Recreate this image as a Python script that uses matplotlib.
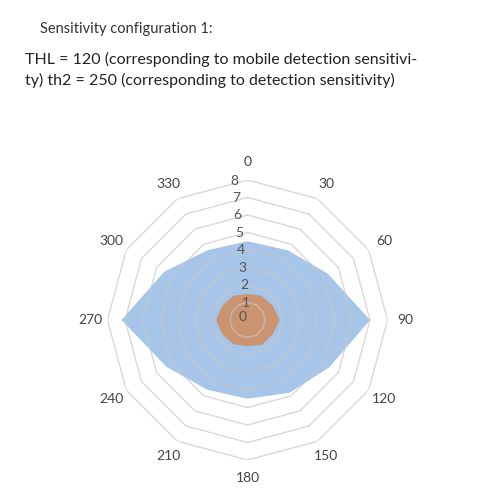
import numpy as np
import matplotlib
matplotlib.use("Agg")
import matplotlib.pyplot as plt

plt.rcParams['font.family'] = ['Lato', 'DejaVu Sans']

angles_deg = [0, 30, 60, 90, 120, 150, 180, 210, 240, 270, 300, 330]
series_blue = [4.5, 4.6, 5.3, 7.0, 5.4, 4.8, 4.5, 4.6, 5.35, 7.2, 5.5, 4.6]
series_orange = [1.5, 1.6, 1.65, 1.85, 1.65, 1.65, 1.5, 1.6, 1.65, 1.8, 1.65, 1.6]
radial_ticks = [0, 1, 2, 3, 4, 5, 6, 7, 8]

fig = plt.figure(figsize=(5, 5), dpi=100)
fig.text(0.08, 0.935, "Sensitivity configuration 1:", fontsize=10.5, color="#333333")
fig.text(0.05, 0.83, "THL = 120 (corresponding to mobile detection sensitivi-\nty) th2 = 250 (corresponding to detection sensitivity)",
         fontsize=11.5, color="#222222", linespacing=1.5)

ax = fig.add_axes([0.215, 0.08, 0.56, 0.56], projection="polar")
ax.set_theta_zero_location("N")
ax.set_theta_direction(-1)
ax.set_ylim(0, 8)
ax.grid(False)
ax.spines["polar"].set_visible(False)
ax.set_yticks([])
ax.set_xticks([])

th = np.deg2rad(angles_deg)
thc = np.append(th, th[0])
for r in radial_ticks[1:]:
    ax.plot(thc, [r] * len(thc), color="#c8c8c8", lw=1, zorder=4, alpha=0.7)

b = np.append(series_blue, series_blue[0])
o = np.append(series_orange, series_orange[0])
ax.fill(thc, b, color="#a6c5e9", zorder=2, lw=0)
ax.fill(thc, o, color="#c9946f", zorder=3, lw=0)

for r in radial_ticks:
    ax.text(np.deg2rad(-5.5) if r > 0 else np.deg2rad(-60), r if r > 0 else 0.35, str(r),
            ha="center", va="center", fontsize=10, color="#555555", zorder=5)
for a, t in zip(angles_deg, th):
    ax.text(t, 9.0, str(a), ha="center", va="center", fontsize=10, color="#444444")

fig.savefig("out.png", dpi=100, facecolor="white")
